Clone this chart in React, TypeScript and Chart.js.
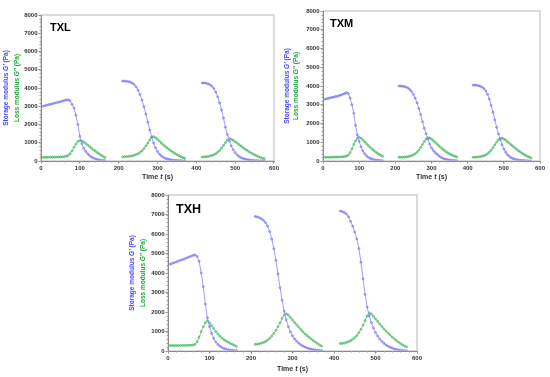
import React, { useEffect, useRef } from "react";
import { Chart, registerables } from "chart.js";
Chart.register(...registerables);

// ---------- data ----------
const seg1Time = [5, 10, 15, 20, 25, 30, 35, 40, 45, 50, 55, 60, 65, 70, 75, 80, 85, 90, 95, 100, 105, 110, 115, 120, 125, 130, 135, 140, 145, 150, 155, 160, 165];
const seg2Time = [210, 215, 220, 225, 230, 235, 240, 245, 250, 255, 260, 265, 270, 275, 280, 285, 290, 295, 300, 305, 310, 315, 320, 325, 330, 335, 340, 345, 350, 355, 360, 365, 370];
const seg3Time = [415, 420, 425, 430, 435, 440, 445, 450, 455, 460, 465, 470, 475, 480, 485, 490, 495, 500, 505, 510, 515, 520, 525, 530, 535, 540, 545, 550, 555, 560, 565, 570, 575];

const txlStorage1 = [3000, 3030, 3060, 3090, 3110, 3140, 3170, 3200, 3220, 3250, 3280, 3310, 3340, 3360, 3300, 3100, 2900, 2500, 2000, 1350, 950, 700, 530, 400, 300, 220, 160, 115, 85, 62, 45, 32, 22];
const txlLoss1 = [200, 200, 200, 205, 205, 210, 210, 215, 220, 225, 230, 240, 260, 300, 400, 560, 750, 930, 1070, 1120, 1100, 1040, 960, 880, 790, 700, 620, 540, 460, 390, 320, 250, 190];
const txlStorage2 = [4380, 4375, 4365, 4350, 4320, 4270, 4190, 4060, 3880, 3640, 3340, 2980, 2570, 2130, 1700, 1310, 980, 720, 520, 380, 280, 205, 150, 115, 88, 68, 52, 41, 33, 26, 21, 17, 13];
const txlLoss2 = [230, 235, 240, 250, 265, 285, 310, 350, 400, 470, 560, 680, 820, 980, 1150, 1300, 1340, 1280, 1190, 1090, 990, 890, 800, 710, 630, 550, 480, 410, 350, 290, 240, 190, 150];
const txlStorage3 = [4280, 4275, 4260, 4230, 4180, 4100, 3970, 3780, 3520, 3190, 2800, 2350, 1850, 1450, 1100, 830, 620, 460, 340, 250, 185, 140, 105, 80, 62, 48, 38, 30, 24, 19, 15, 12, 10];
const txlLoss3 = [220, 225, 235, 250, 270, 300, 340, 400, 480, 580, 710, 860, 1010, 1150, 1220, 1200, 1140, 1060, 980, 900, 820, 740, 660, 590, 520, 455, 395, 340, 290, 240, 195, 160, 130];

const txmStorage1 = [3300, 3320, 3340, 3370, 3390, 3410, 3440, 3460, 3490, 3520, 3560, 3600, 3650, 3600, 3350, 3000, 2550, 1900, 1400, 1050, 760, 550, 390, 280, 200, 145, 105, 75, 55, 40, 30, 22, 15];
const txmLoss1 = [200, 200, 200, 200, 205, 205, 210, 210, 215, 220, 230, 240, 260, 320, 450, 650, 880, 1080, 1220, 1270, 1220, 1130, 1030, 930, 830, 740, 650, 570, 490, 420, 360, 300, 250];
const txmStorage2 = [4000, 3995, 3985, 3970, 3940, 3890, 3810, 3700, 3550, 3350, 3100, 2800, 2480, 2100, 1750, 1450, 1180, 900, 700, 560, 450, 360, 280, 210, 160, 120, 90, 70, 52, 40, 30, 22, 15];
const txmLoss2 = [200, 200, 205, 210, 220, 235, 255, 285, 330, 390, 470, 580, 720, 880, 1040, 1170, 1240, 1230, 1170, 1090, 1000, 910, 820, 730, 650, 570, 500, 440, 380, 330, 290, 250, 210];
const txmStorage3 = [4050, 4045, 4035, 4020, 3990, 3940, 3860, 3740, 3560, 3300, 2960, 2600, 2200, 1800, 1450, 1150, 870, 640, 470, 340, 250, 180, 135, 100, 75, 57, 44, 34, 26, 20, 15, 11, 8];
const txmLoss3 = [200, 205, 210, 220, 235, 255, 285, 330, 390, 470, 580, 710, 860, 1010, 1140, 1210, 1220, 1180, 1110, 1030, 950, 870, 790, 710, 630, 560, 490, 420, 360, 300, 250, 210, 180];

const txhStorage1 = [4450, 4490, 4530, 4570, 4610, 4650, 4690, 4730, 4770, 4820, 4860, 4900, 4930, 4850, 4600, 4000, 3300, 2400, 1700, 1250, 900, 650, 470, 340, 250, 180, 130, 95, 70, 52, 38, 28, 20];
const txhLoss1 = [280, 280, 280, 280, 280, 285, 285, 290, 290, 295, 300, 310, 340, 480, 700, 1000, 1250, 1450, 1550, 1450, 1300, 1150, 1000, 870, 760, 660, 580, 510, 450, 390, 340, 290, 240];
const txhStorage2 = [6900, 6880, 6840, 6780, 6700, 6580, 6400, 6120, 5750, 5250, 4650, 3950, 3250, 2600, 2050, 1600, 1250, 980, 780, 620, 500, 400, 320, 255, 200, 160, 125, 95, 75, 58, 45, 35, 25];
const txhLoss2 = [340, 350, 370, 400, 440, 490, 560, 650, 760, 900, 1060, 1250, 1450, 1670, 1850, 1910, 1850, 1720, 1590, 1460, 1340, 1220, 1100, 990, 880, 790, 700, 620, 540, 460, 390, 320, 250];
const txhStorage3 = [7180, 7150, 7100, 7020, 6880, 6650, 6400, 6100, 5750, 5250, 4550, 3700, 2900, 2250, 1800, 1450, 1180, 950, 770, 620, 500, 400, 320, 250, 195, 150, 115, 85, 62, 45, 32, 22, 15];
const txhLoss3 = [380, 390, 410, 440, 480, 530, 600, 690, 800, 940, 1110, 1320, 1560, 1800, 1950, 1900, 1780, 1650, 1520, 1390, 1260, 1140, 1030, 920, 820, 720, 630, 540, 460, 390, 320, 260, 210];

const panelNames = ["TXL", "TXM", "TXH"];
const xAxisMax = 600;
const xAxisStep = 100;
const yAxisMax = 8000;
const yAxisStep = 1000;
const storageTitle = ["Storage modulus ", "G\u2032", " (Pa)"];
const lossTitle = ["Loss modulus ", "G\u2033", " (Pa)"];
const timeTitle = ["Time ", "t", " (s)"];

// ---------- styles ----------
const FONT = "'Liberation Sans', Arial, sans-serif";
const BLUE_LINE = "rgba(140,140,255,0.85)";
const BLUE_PT = "rgba(110,110,240,0.9)";
const GREEN_LINE = "rgba(100,200,125,0.85)";
const GREEN_PT = "rgba(60,175,90,0.9)";
const BLUE_TXT = "rgb(70,70,255)";
const GREEN_TXT = "rgb(30,165,60)";

type Layout = {
  left: number; top: number; w: number; h: number;
  padL: number; padT: number; padR: number; padB: number;
  storageX: number; lossX: number; xTitleY: number;
  nameSize: number; nameDx: number; nameDy: number;
};

const layouts: Layout[] = [
  { left: 0, top: 0, w: 280, h: 185, padL: 11, padT: 15, padR: 6, padB: 10, storageX: 6, lossX: 17, xTitleY: 177, nameSize: 11, nameDx: 9, nameDy: 16 },
  { left: 280, top: 0, w: 270, h: 185, padL: 13, padT: 11, padR: 10, padB: 10, storageX: 7, lossX: 16, xTitleY: 177, nameSize: 11, nameDx: 7, nameDy: 16 },
  { left: 125, top: 185, w: 300, h: 192, padL: 13, padT: 10, padR: 8, padB: 12, storageX: 7, lossX: 18, xTitleY: 369, nameSize: 12.5, nameDx: 8, nameDy: 18 },
];

const panelData = [
  [[txlStorage1, txlStorage2, txlStorage3], [txlLoss1, txlLoss2, txlLoss3]],
  [[txmStorage1, txmStorage2, txmStorage3], [txmLoss1, txmLoss2, txmLoss3]],
  [[txhStorage1, txhStorage2, txhStorage3], [txhLoss1, txhLoss2, txhLoss3]],
];
const segTimes = [seg1Time, seg2Time, seg3Time];

function pts(times: number[], values: number[]) {
  return times.map((t, i) => ({ x: t, y: values[i] }));
}

function drawParts(ctx: CanvasRenderingContext2D, parts: string[], size: number, color: string) {
  const fonts = [`bold ${size}px ${FONT}`, `italic bold ${size}px ${FONT}`, `bold ${size}px ${FONT}`];
  const widths = parts.map((p, i) => { ctx.font = fonts[i]; return ctx.measureText(p).width; });
  const total = widths.reduce((a, b) => a + b, 0);
  let x = -total / 2;
  ctx.fillStyle = color;
  ctx.textBaseline = "middle";
  ctx.textAlign = "left";
  parts.forEach((p, i) => { ctx.font = fonts[i]; ctx.fillText(p, x, 0); x += widths[i]; });
}

const decorPlugin = {
  id: "decor",
  afterDraw(chart: any, _args: any, opts: any) {
    const ctx: CanvasRenderingContext2D = chart.ctx;
    const a = chart.chartArea;
    const L: Layout = opts.layout;
    ctx.save();
    // box
    ctx.strokeStyle = "#c4c4c4";
    ctx.lineWidth = 1.2;
    ctx.strokeRect(a.left, a.top, a.right - a.left, a.bottom - a.top);
    ctx.strokeStyle = "#8a8a8a";
    ctx.lineWidth = 1;
    ctx.beginPath();
    ctx.moveTo(a.left + 0.5, a.top);
    ctx.lineTo(a.left + 0.5, a.bottom + 0.5);
    ctx.lineTo(a.right, a.bottom + 0.5);
    ctx.stroke();
    // minor ticks
    const xs = chart.scales.x, ys = chart.scales.y;
    ctx.strokeStyle = "#a0a0a0";
    ctx.beginPath();
    for (let v = 0; v <= yAxisMax; v += yAxisStep / 5) {
      const y = Math.round(ys.getPixelForValue(v)) + 0.5;
      ctx.moveTo(a.left - 1.5, y); ctx.lineTo(a.left, y);
    }
    for (let v = 0; v <= xAxisMax; v += xAxisStep / 5) {
      const x = Math.round(xs.getPixelForValue(v)) + 0.5;
      ctx.moveTo(x, a.bottom); ctx.lineTo(x, a.bottom + 1.5);
    }
    ctx.stroke();
    // panel name
    ctx.fillStyle = "#000";
    ctx.font = `bold ${L.nameSize}px ${FONT}`;
    ctx.textAlign = "left";
    ctx.textBaseline = "alphabetic";
    ctx.fillText(opts.name, a.left + L.nameDx, a.top + L.nameDy);
    // y titles
    const cy = (a.top + a.bottom) / 2;
    ctx.save();
    ctx.translate(L.storageX, cy);
    ctx.rotate(-Math.PI / 2);
    drawParts(ctx, storageTitle, 6.5, BLUE_TXT);
    ctx.restore();
    ctx.save();
    ctx.translate(L.lossX, cy);
    ctx.rotate(-Math.PI / 2);
    drawParts(ctx, lossTitle, 6.5, GREEN_TXT);
    ctx.restore();
    // x title
    ctx.save();
    ctx.translate((a.left + a.right) / 2, L.xTitleY - L.top);
    drawParts(ctx, timeTitle, 7, "#333");
    ctx.restore();
    ctx.restore();
  },
};

function Panel({ idx }: { idx: number }) {
  const ref = useRef<HTMLCanvasElement>(null);
  const L = layouts[idx];
  useEffect(() => {
    if (!ref.current) return;
    const [storage, loss] = panelData[idx];
    const datasets: any[] = [];
    storage.forEach((vals, s) => {
      datasets.push({
        data: pts(segTimes[s], vals), borderColor: BLUE_LINE, borderWidth: 1,
        pointRadius: 1, pointBorderWidth: 0.7, pointBackgroundColor: "rgba(160,160,255,0.5)", pointBorderColor: BLUE_PT,
        tension: 0, fill: false,
      });
    });
    loss.forEach((vals, s) => {
      datasets.push({
        data: pts(segTimes[s], vals), borderColor: GREEN_LINE, borderWidth: 1,
        pointRadius: 1, pointBorderWidth: 0.7, pointBackgroundColor: "rgba(130,215,150,0.5)", pointBorderColor: GREEN_PT,
        tension: 0, fill: false,
      });
    });
    const tickFont = { family: FONT, size: 6, weight: "bold" as const };
    const fmt = (v: any) => String(v);
    const chart = new Chart(ref.current, {
      type: "line",
      data: { datasets },
      plugins: [decorPlugin],
      options: {
        animation: false,
        responsive: false,
        devicePixelRatio: 1,
        layout: { padding: { left: L.padL, top: L.padT, right: L.padR, bottom: L.padB } },
        plugins: {
          legend: { display: false },
          tooltip: { enabled: false },
          decor: { name: panelNames[idx], layout: L },
        } as any,
        scales: {
          x: {
            type: "linear", min: 0, max: xAxisMax,
            ticks: { stepSize: xAxisStep, font: tickFont, color: "#333", padding: 1, maxRotation: 0, callback: fmt },
            grid: { drawOnChartArea: false, drawTicks: true, tickLength: 2.5, color: "#8a8a8a" },
            border: { display: true, color: "#8a8a8a" },
            afterFit: (s: any) => { s.height = 14; },
          },
          y: {
            type: "linear", min: 0, max: yAxisMax,
            ticks: { stepSize: yAxisStep, font: tickFont, color: "#333", padding: 1, callback: fmt },
            grid: { drawOnChartArea: false, drawTicks: true, tickLength: 2.5, color: "#8a8a8a" },
            border: { display: true, color: "#8a8a8a" },
            afterFit: (s: any) => { s.width = 30; },
          },
        },
      } as any,
    });
    return () => chart.destroy();
  }, [idx]);
  return (
    <canvas
      ref={ref}
      width={L.w}
      height={L.h}
      style={{ position: "absolute", left: L.left, top: L.top, width: L.w, height: L.h }}
    />
  );
}

export default function App() {
  return (
    <div style={{ position: "absolute", left: 0, top: 0, width: 550, height: 377, background: "#fff", overflow: "hidden" }}>
      {panelNames.map((_, i) => <Panel key={i} idx={i} />)}
    </div>
  );
}
